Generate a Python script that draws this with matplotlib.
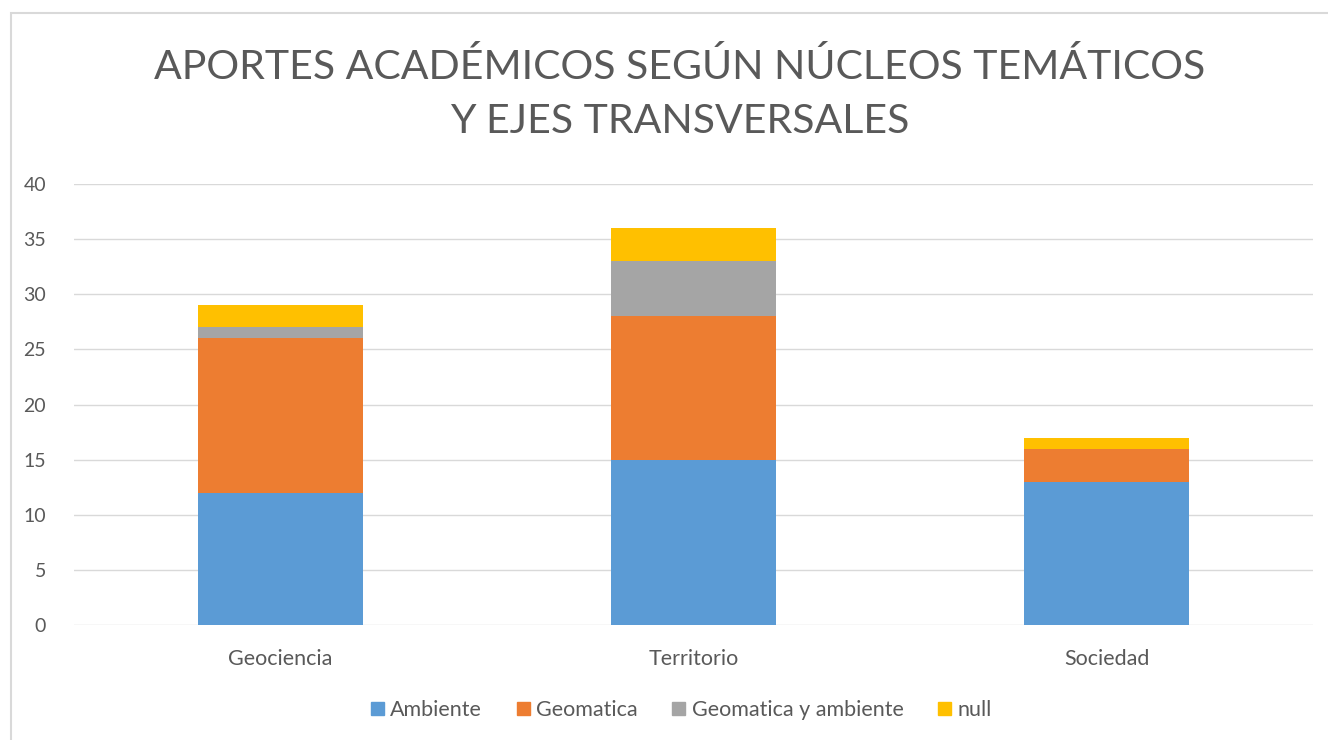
import matplotlib.pyplot as plt
import matplotlib.patches as mpatches
import numpy as np

categories = ['Geociencia', 'Territorio', 'Sociedad']
series = ['Ambiente', 'Geomatica', 'Geomatica y ambiente', 'null']
ambiente = [12, 15, 13]
geomatica = [14, 13, 3]
geo_amb = [1, 5, 0]
null = [2, 3, 1]
yticks = [0, 5, 10, 15, 20, 25, 30, 35, 40]

colors = ['#5b9bd5', '#ed7d31', '#a5a5a5', '#ffc000']
txt = '#595959'

plt.rcParams['font.family'] = ['Lato', 'DejaVu Sans']

fig = plt.figure(figsize=(13.28, 7.4), dpi=100)
fig.patches.append(mpatches.Rectangle((11 / 1328, -0.1), 1.2, (740 - 13) / 740 + 0.1,
                                      transform=fig.transFigure, fill=False,
                                      edgecolor='#d9d9d9', linewidth=1.5))

ax = fig.add_axes([74 / 1328, 1 - 625 / 740, (1313 - 74) / 1328, (625 - 184) / 740])

x = np.arange(len(categories))
bottom = np.zeros(len(categories))
for vals, name, c in zip([ambiente, geomatica, geo_amb, null], series, colors):
    ax.bar(x, vals, width=0.4, bottom=bottom, color=c, label=name, zorder=3)
    bottom += np.array(vals)

ax.set_xlim(-0.5, 2.5)
ax.set_ylim(0, 40)
ax.set_yticks(yticks)
ax.set_xticks(x)
ax.set_xticklabels(categories)
ax.grid(axis='y', color='#d9d9d9', linewidth=1, zorder=0)
for s in ax.spines.values():
    s.set_visible(False)
ax.tick_params(axis='both', length=0, colors=txt)
ax.tick_params(axis='y', pad=20, labelsize=14)
ax.tick_params(axis='x', pad=17, labelsize=15.5)

fig.text(0.512, 1 - 94 / 740, 'APORTES ACADÉMICOS SEGÚN NÚCLEOS TEMÁTICOS\nY EJES TRANSVERSALES',
         ha='center', va='center', fontsize=29.5, color=txt, linespacing=1.55)

handles = [mpatches.Patch(color=c) for c in colors]
fig.legend(handles, series, loc='center', bbox_to_anchor=(0.513, 1 - 710 / 740), ncol=4,
           frameon=False, fontsize=15.5, handlelength=0.6, handleheight=0.6,
           handletextpad=0.3, columnspacing=1.6, labelcolor=txt)

fig.savefig('out.png', dpi=100)
